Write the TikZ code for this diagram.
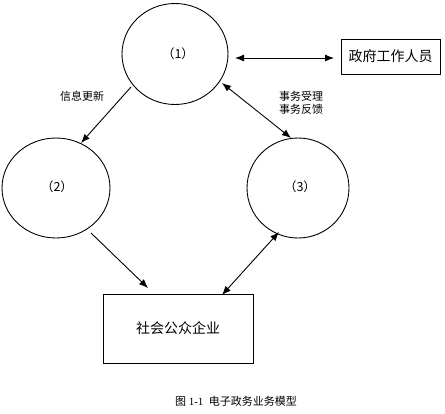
\documentclass[tikz,border=0pt]{standalone}
\usepackage{fontspec}
\setmainfont{Liberation Serif}
\newfontfamily\cjk{Noto Sans CJK SC}
\usetikzlibrary{arrows.meta,shapes.geometric}
\begin{document}
\begin{tikzpicture}[x=1pt,y=-1pt,
  line width=0.9pt,
  circ/.style={draw, ellipse, inner sep=0pt},
  rbox/.style={draw, rectangle, inner sep=0pt},
  arr/.style={-{Latex[length=9pt,width=7pt]}},
  darr/.style={{Latex[length=9pt,width=7pt]}-{Latex[length=9pt,width=7pt]}},
  lbl/.style={font=\cjk\fontsize{11}{13}\selectfont, inner sep=0pt, align=center},
  num/.style={font=\cjk\fontsize{12.5}{14}\selectfont, inner sep=0pt}
]
\useasboundingbox (0,0) rectangle (445,413);
\fill[white] (0,0) rectangle (445,413);
% circles
\node[circ, minimum width=106pt, minimum height=101pt] (c1) at (175,54) {};
\node[circ, minimum width=108pt, minimum height=100pt] (c2) at (56,188) {};
\node[circ, minimum width=102pt, minimum height=100pt] (c3) at (298,188) {};
\node[num] (t1) at (178,54) {（1）};
\node[num] (t2) at (57,187) {（2）};
\node[num] (t3) at (300,187) {（3）};
% boxes
\node[rbox, minimum width=99pt, minimum height=35pt, font=\cjk\fontsize{14}{16}\selectfont] (gov) at (390.5,56.5) {政府工作人员};
\node[rbox, minimum width=150pt, minimum height=69pt, font=\cjk\fontsize{14}{16}\selectfont] (pub) at (178,328.5) {社会公众企业};
% anchor coordinates
\coordinate (a1s) at (235,58);
\coordinate (a1e) at (334,58);
\coordinate (a2s) at (131,87);
\coordinate (a2e) at (81,143);
\coordinate (a3s) at (222,83);
\coordinate (a3e) at (291,138);
\coordinate (a4s) at (91,233);
\coordinate (a4e) at (148,288);
\coordinate (a5s) at (279,232);
\coordinate (a5e) at (222,295);
\draw[darr] (a1s) -- (a1e);
\draw[arr] (a2s) -- (a2e);
\draw[darr] (a3s) -- (a3e);
\draw[arr] (a4s) -- (a4e);
\draw[darr] (a5s) -- (a5e);
% labels
\node[lbl] (l1) at (82,96) {信息更新};
\node[lbl] (l2) at (301,96) {事务受理};
\node[lbl] (l3) at (301,109) {事务反馈};
\node[inner sep=0pt, font=\fontsize{11}{13}\selectfont] (cap) at (236,401) {{\cjk 图} 1-1\ \ {\cjk 电子政务业务模型}};
\end{tikzpicture}
\end{document}
